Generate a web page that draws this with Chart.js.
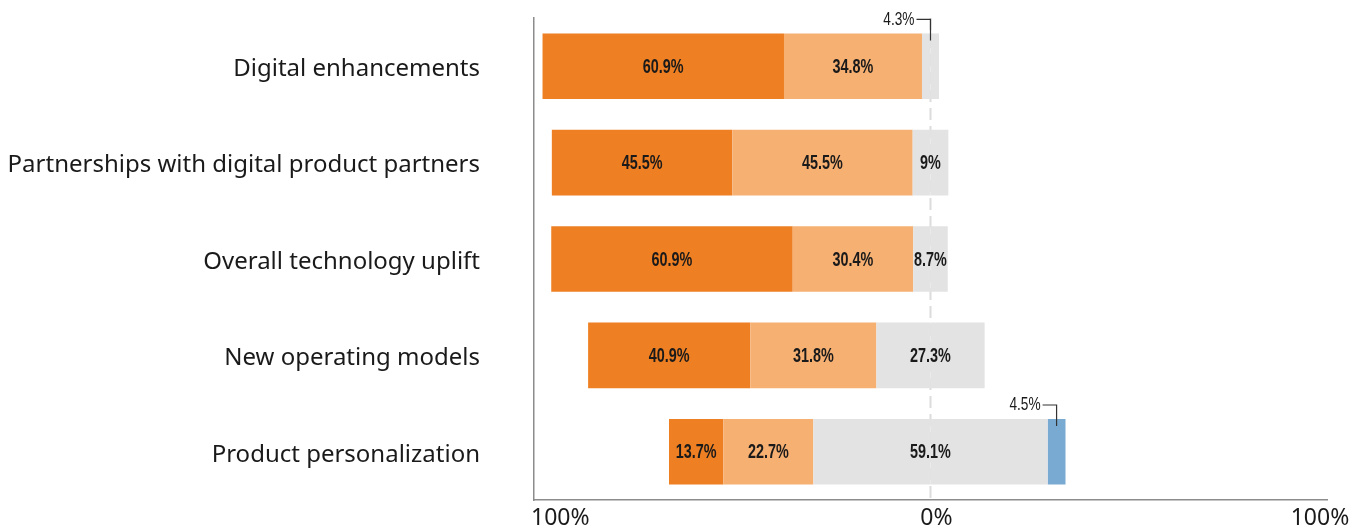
<!DOCTYPE html>
<html>
<head>
<meta charset="utf-8">
<script src="https://cdn.jsdelivr.net/npm/chart.js@4/dist/chart.umd.min.js"></script>
<style>
  html, body { margin: 0; padding: 0; background: #fff; }
  canvas { display: block; }
</style>
</head>
<body>
<canvas id="grafico" width="1367" height="529"></canvas>
<script>
const categorias = [
  'Digital enhancements',
  'Partnerships with digital product partners',
  'Overall technology uplift',
  'New operating models',
  'Product personalization'
];
// left side (stacked outward from zero)
const fuerte = [60.9, 45.5, 60.9, 40.9, 13.7];
const moderado = [34.8, 45.5, 30.4, 31.8, 22.7];
// centred on zero
const neutral = [4.3, 9, 8.7, 27.3, 59.1];
// right side
const otro = [0, 0, 0, 0, 4.5];

const xTicks = [-100, 0, 100];
const xTickLabels = ['100%', '0%', '100%'];

const COLOR_FUERTE = '#EE7F22';
const COLOR_MODERADO = '#F6B072';
const COLOR_NEUTRAL = '#E3E3E3';
const COLOR_OTRO = '#79AAD2';
const TEXTO = '#1a1a1a';
const FUENTE = '"Noto Sans", "Liberation Sans", sans-serif';
const FUENTE_NUM = '"Liberation Sans", Arial, sans-serif';
const ESTRECHO = 0.72; // squeeze numbers horizontally

const mitad = neutral.map((v) => v / 2);

function textoEstrecho(ctx, txt, x, y) {
  ctx.save();
  ctx.translate(x, y);
  ctx.scale(ESTRECHO, 1);
  ctx.fillText(txt, 0, 0);
  ctx.restore();
}

// dashed line at 0%
const lineaCero = {
  id: 'lineaCero',
  beforeDatasetsDraw(chart) {
    const ctx = chart.ctx;
    const x = chart.scales.x.getPixelForValue(0);
    const area = chart.chartArea;
    ctx.save();
    ctx.strokeStyle = '#dcdcdc';
    ctx.lineWidth = 2;
    ctx.setLineDash([12, 6]);
    ctx.beginPath();
    ctx.moveTo(x, area.top);
    ctx.lineTo(x, area.bottom);
    ctx.stroke();
    ctx.restore();
  }
};

const etiquetas = {
  id: 'etiquetas',
  afterDatasetsDraw(chart) {
    const ctx = chart.ctx;
    const m = [0, 1, 2, 3, 4].map((i) => chart.getDatasetMeta(i).data);
    ctx.save();
    categorias.forEach((c, j) => {
      const barra = m[2][j];
      const top = barra.y - barra.height / 2;
      const segs = [
        { v: fuerte[j], a: m[2][j].x, b: m[2][j].base },
        { v: moderado[j], a: m[1][j].x, b: m[1][j].base },
        { v: neutral[j], a: m[0][j].x, b: m[3][j].x },
        { v: otro[j], a: m[4][j].base, b: m[4][j].x }
      ];
      segs.forEach((s) => {
        if (!s.v) return;
        const w = Math.abs(s.b - s.a);
        const cx = (s.a + s.b) / 2;
        const txt = s.v + '%';
        ctx.fillStyle = TEXTO;
        ctx.textBaseline = 'middle';
        if (w > 30) {
          ctx.font = 'bold 20px ' + FUENTE_NUM;
          ctx.textAlign = 'center';
          textoEstrecho(ctx, txt, cx, barra.y + 1);
        } else {
          const ly = top - 14;
          ctx.strokeStyle = '#333';
          ctx.lineWidth = 1.2;
          ctx.beginPath();
          ctx.moveTo(cx - 14, ly);
          ctx.lineTo(cx, ly);
          ctx.lineTo(cx, top + 7);
          ctx.stroke();
          ctx.font = '19px ' + FUENTE_NUM;
          ctx.textAlign = 'right';
          textoEstrecho(ctx, txt, cx - 16, ly);
        }
      });
    });
    ctx.restore();
  }
};

// x axis labels: first one flush with the axis start
const etiquetasX = {
  id: 'etiquetasX',
  afterDraw(chart) {
    const ctx = chart.ctx;
    const sx = chart.scales.x;
    ctx.save();
    ctx.fillStyle = TEXTO;
    ctx.font = '23px ' + FUENTE;
    ctx.textBaseline = 'middle';
    xTicks.forEach((t, i) => {
      const px = sx.getPixelForValue(t);
      if (i === 0) {
        ctx.textAlign = 'left';
        ctx.fillText(xTickLabels[i], px - 3, 518);
      } else {
        ctx.textAlign = 'center';
        ctx.fillText(xTickLabels[i], px + (i === xTicks.length - 1 ? -7 : 6), 518);
      }
    });
    ctx.restore();
  }
};

const ctx = document.getElementById('grafico').getContext('2d');
const grafico = new Chart(ctx, {
  type: 'bar',
  data: {
    labels: categorias,
    datasets: [
      { label: 'Neutral', data: mitad.map((v) => -v), backgroundColor: COLOR_NEUTRAL },
      { label: 'Moderado', data: moderado.map((v) => -v), backgroundColor: COLOR_MODERADO },
      { label: 'Fuerte', data: fuerte.map((v) => -v), backgroundColor: COLOR_FUERTE },
      { label: 'Neutral', data: mitad, backgroundColor: COLOR_NEUTRAL },
      { label: 'Otro', data: otro, backgroundColor: COLOR_OTRO }
    ]
  },
  options: {
    indexAxis: 'y',
    responsive: false,
    animation: false,
    layout: { padding: { top: 18, right: 40, bottom: 29, left: 0 } },
    datasets: {
      bar: { categoryPercentage: 1, barPercentage: 0.68, borderWidth: 0 }
    },
    plugins: {
      legend: { display: false },
      tooltip: { enabled: false }
    },
    scales: {
      x: {
        type: 'linear',
        min: -100,
        max: 100,
        stacked: true,
        grid: { display: false, drawTicks: false },
        border: { display: true, color: '#8c8c8c', width: 1.5 },
        ticks: { display: false }
      },
      y: {
        stacked: true,
        // invisible tick marks keep the labels away from the axis
        grid: { display: true, drawOnChartArea: false, drawTicks: true, tickLength: 54, tickColor: 'rgba(0,0,0,0)' },
        border: { display: true, color: '#8c8c8c', width: 1.5 },
        ticks: { color: TEXTO, font: { family: FUENTE, size: 24 }, padding: 0, labelOffset: 3 },
        afterFit(scale) { scale.width = 534; }
      }
    }
  },
  plugins: [lineaCero, etiquetas, etiquetasX]
});
</script>
</body>
</html>
